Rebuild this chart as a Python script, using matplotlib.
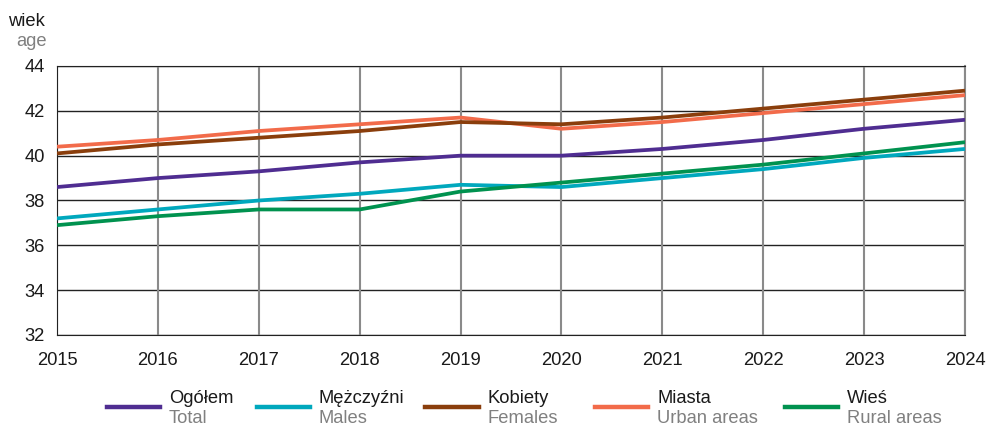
import matplotlib
matplotlib.use('Agg')
import matplotlib.pyplot as plt
from matplotlib.lines import Line2D

plt.rcParams['font.family'] = ['Liberation Sans', 'DejaVu Sans']

# dane
years = [2015, 2016, 2017, 2018, 2019, 2020, 2021, 2022, 2023, 2024]
ogolem = [38.6, 39.0, 39.3, 39.7, 40.0, 40.0, 40.3, 40.7, 41.2, 41.6]
mezczyzni = [37.2, 37.6, 38.0, 38.3, 38.7, 38.6, 39.0, 39.4, 39.9, 40.3]
kobiety = [40.1, 40.5, 40.8, 41.1, 41.5, 41.4, 41.7, 42.1, 42.5, 42.9]
miasta = [40.4, 40.7, 41.1, 41.4, 41.7, 41.2, 41.5, 41.9, 42.3, 42.7]
wies = [36.9, 37.3, 37.6, 37.6, 38.4, 38.8, 39.2, 39.6, 40.1, 40.6]
y_ticks = [32, 34, 36, 38, 40, 42, 44]

series = [
    (ogolem, 'Ogółem', 'Total', '#4f2d91'),
    (mezczyzni, 'Mężczyźni', 'Males', '#00a8bd'),
    (kobiety, 'Kobiety', 'Females', '#8a3e0c'),
    (miasta, 'Miasta', 'Urban areas', '#f26b4a'),
    (wies, 'Wieś', 'Rural areas', '#00924f'),
]

fs = 13.2

fig = plt.figure(figsize=(9.87, 4.28), dpi=100)
ax = fig.add_axes([0.0578, 0.2173, 0.9199, 0.6285])

# rysowanie linii (kolejność jak w oryginale)
for vals, pl, en, col in [series[1], series[4], series[0], series[3], series[2]]:
    ax.plot(years, vals, color=col, linewidth=2.7, solid_capstyle='butt', zorder=3)

ax.set_xlim(2015, 2024)
ax.set_ylim(32, 44)
ax.set_yticks(y_ticks)
ax.set_xticks(years)
ax.set_xticklabels([str(y) for y in years])
ax.tick_params(axis='both', length=0, labelsize=fs, colors='#1a1a1a')
ax.tick_params(axis='x', pad=12)
ax.tick_params(axis='y', pad=9)

for yv in y_ticks:
    ax.axhline(yv, color='#222222', linewidth=1.0, zorder=1)
for xv in years:
    ax.axvline(xv, color='#8a8a8a', linewidth=1.5, zorder=1)

for s in ['top', 'bottom', 'left']:
    ax.spines[s].set_color('#222222')
ax.spines['right'].set_color('#8a8a8a')
ax.spines['right'].set_linewidth(1.5)

fig.text(0.008, 0.950, 'wiek', fontsize=fs, color='#1a1a1a', va='center')
fig.text(0.016, 0.903, 'age', fontsize=fs, color='#808080', va='center')

# legenda
leg_x = [0.108, 0.260, 0.431, 0.603, 0.795]
for (vals, pl, en, col), lx in zip(series, leg_x):
    fig.add_artist(Line2D([lx, lx + 0.054], [0.049, 0.049], color=col,
                          linewidth=3.2, transform=fig.transFigure))
    fig.text(lx + 0.063, 0.068, pl, fontsize=fs, color='#1a1a1a', va='center')
    fig.text(lx + 0.063, 0.022, en, fontsize=fs, color='#808080', va='center')

fig.savefig('out.png', dpi=100)
